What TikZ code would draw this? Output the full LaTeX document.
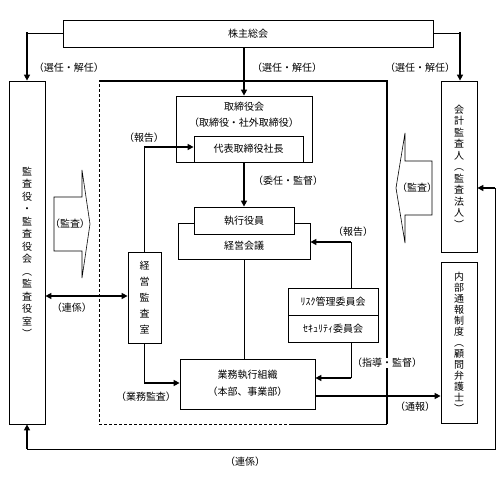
\documentclass[tikz,border=0pt]{standalone}
\usepackage{fontspec}
\newfontfamily\jp{Noto Sans CJK JP}
\usetikzlibrary{arrows.meta}
\begin{document}
\begin{tikzpicture}[x=1pt,y=-1pt,
  box/.style={draw,line width=0.8pt,inner sep=0pt,font=\jp\fontsize{10}{12}\selectfont},
  vtxt/.style={align=center,font=\jp\fontsize{10}{#1}\selectfont},
  lbl/.style={font=\jp\fontsize{10}{12}\selectfont,inner sep=1pt},
  thk/.style={line width=2.2pt},
  thn/.style={line width=0.8pt},
  tip/.style={-{Triangle[length=6pt,width=6pt]}},
  tips/.style={{Triangle[length=6pt,width=6pt]}-{Triangle[length=6pt,width=6pt]}},
  hollow/.style={line width=0.6pt},
]
\useasboundingbox (0,0) rectangle (499,478);

% boxes
\node[box,minimum width=370pt,minimum height=27pt] (sh) at (248,33.5) {株主総会};
\node[box,vtxt=12.5,minimum width=36pt,minimum height=343pt] (ka) at (27,252.5) {監\\査\\役\\・\\監\\査\\役\\会\\︵\\監\\査\\役\\室\\︶};
\node[box,vtxt=11.5,minimum width=36pt,minimum height=171pt] (kk) at (459,166.5) {会\\計\\監\\査\\人\\︵\\監\\査\\法\\人\\︶};
\node[box,vtxt=11,minimum width=36pt,minimum height=161pt] (nb) at (459,342.5) {内\\部\\通\\報\\制\\度\\︵\\顧\\問\\弁\\護\\士\\︶};

\node[box,minimum width=136pt,minimum height=66pt] (tori) at (244,129) {};
\node[lbl] (toriA) at (244,107) {取締役会};
\node[lbl] (toriB) at (244,123) {（取締役・社外取締役）};
\node[box,minimum width=109pt,minimum height=26pt] (dai) at (248.5,149) {代表取締役社長};

\node[box,minimum width=132pt,minimum height=36pt] (kei) at (244,241) {};
\node[lbl] (keiT) at (244,246) {経営会議};
\node[box,fill=white,minimum width=100pt,minimum height=27pt] (shi) at (244,220.5) {執行役員};

\node[box,minimum width=135pt,minimum height=50pt] (gyo) at (247.5,384) {};
\node[lbl] (gyoA) at (247.5,375) {業務執行組織};
\node[lbl] (gyoB) at (247.5,392) {（本部、事業部）};

\node[box,vtxt=16,minimum width=33pt,minimum height=91pt] (kan) at (144.5,297.5) {経\\営\\監\\査\\室};

\node[box,minimum width=90pt,minimum height=27pt] (risk1) at (333,301.5) {ﾘｽｸ管理委員会};
\node[box,minimum width=90pt,minimum height=27pt] (risk2) at (333,328.5) {ｾｷｭﾘﾃｨ委員会};

% frame
\draw[thk] (99,81) -- (387,81) -- (387,424);
\draw[thn] (387,424) -- (292,424);
\draw[thn,dash pattern=on 3pt off 2pt] (292,424) -- (99,424) -- (99,81);

% hollow arrows
\draw[hollow] (54,197) -- (82,197) -- (82,170) -- (90,224) -- (82,278) -- (82,251) -- (54,251) -- cycle;
\draw[hollow] (432,161) -- (405,161) -- (405,133) -- (396,188) -- (405,243) -- (405,215) -- (432,215) -- cycle;

% connectors
\coordinate (c1) at (27,33.5);
\draw[thn] (sh.west) -- (c1);
\draw[thk,tip] ([yshift=1pt]c1) -- (ka.north);
\draw[thk,tip] (tori.north |- sh.south) -- (tori.north);
\coordinate (c2) at (460,33.5);
\draw[thn] (sh.east) -- (c2);
\draw[thk,tip] ([yshift=1pt]c2) -- (c2 |- kk.north);

\draw[thk,tip] (shi.north |- tori.south) -- (shi.north);
\draw[thn] (kei.south) -- (kei.south |- gyo.north);

\coordinate (c3) at (144.5,147);
\draw[thn] (kan.north) -- (c3);
\draw[thk,tip] ([xshift=-0.4pt]c3) -- (c3 -| dai.west);
\coordinate (c4) at (144.5,383);
\draw[thn] (kan.south) -- (c4);
\draw[thk,tip] ([xshift=-0.4pt]c4) -- (c4 -| gyo.west);

\draw[thk,tips] (ka.east |- 0,296) -- (kan.west |- 0,296);

\coordinate (c6) at (351,242);
\draw[thn] (risk1.north -| c6) -- (c6);
\draw[thk,tip] ([xshift=0.4pt]c6) -- (c6 -| kei.east);
\coordinate (c7) at (351,378);
\draw[thn] (risk2.south -| c7) -- (c7);
\draw[thk,tip] ([xshift=0.4pt]c7) -- (c7 -| gyo.east);

\coordinate (c8) at (400,396);
\draw[thk,tip] (c8 -| gyo.east) -- (c8 -| nb.west);

\coordinate (c9) at (495,188);
\coordinate (c10) at (495,449);
\coordinate (c11) at (27,449);
\draw[thk,tip] (c9) -- (c9 -| kk.east);
\draw[thn] (c9) -- (c10) -- (c11);
\draw[thk,tip] ([yshift=0.4pt]c11) -- (ka.south);

% labels
\node[lbl] (l1) at (69,68) {（選任・解任）};
\node[lbl] (l2) at (287,68) {（選任・解任）};
\node[lbl] (l3) at (420,68) {（選任・解任）};
\node[lbl] (l4) at (144,138) {（報告）};
\node[lbl] (l5) at (288,181) {（委任・監督）};
\node[lbl] (l6) at (353,232) {（報告）};
\node[lbl,fill=white,inner sep=0pt] (l7) at (387,363) {（指導・監督）};
\node[lbl] (l8) at (146,397) {（業務監査）};
\node[lbl] (l9) at (72,308) {（連係）};
\node[lbl] (l10) at (415,407) {（通報）};
\node[lbl] (l11) at (245,462) {（連係）};
\node[lbl] (l12) at (70,224) {（監査）};
\node[lbl] (l13) at (417,188) {（監査）};
\end{tikzpicture}
\end{document}
